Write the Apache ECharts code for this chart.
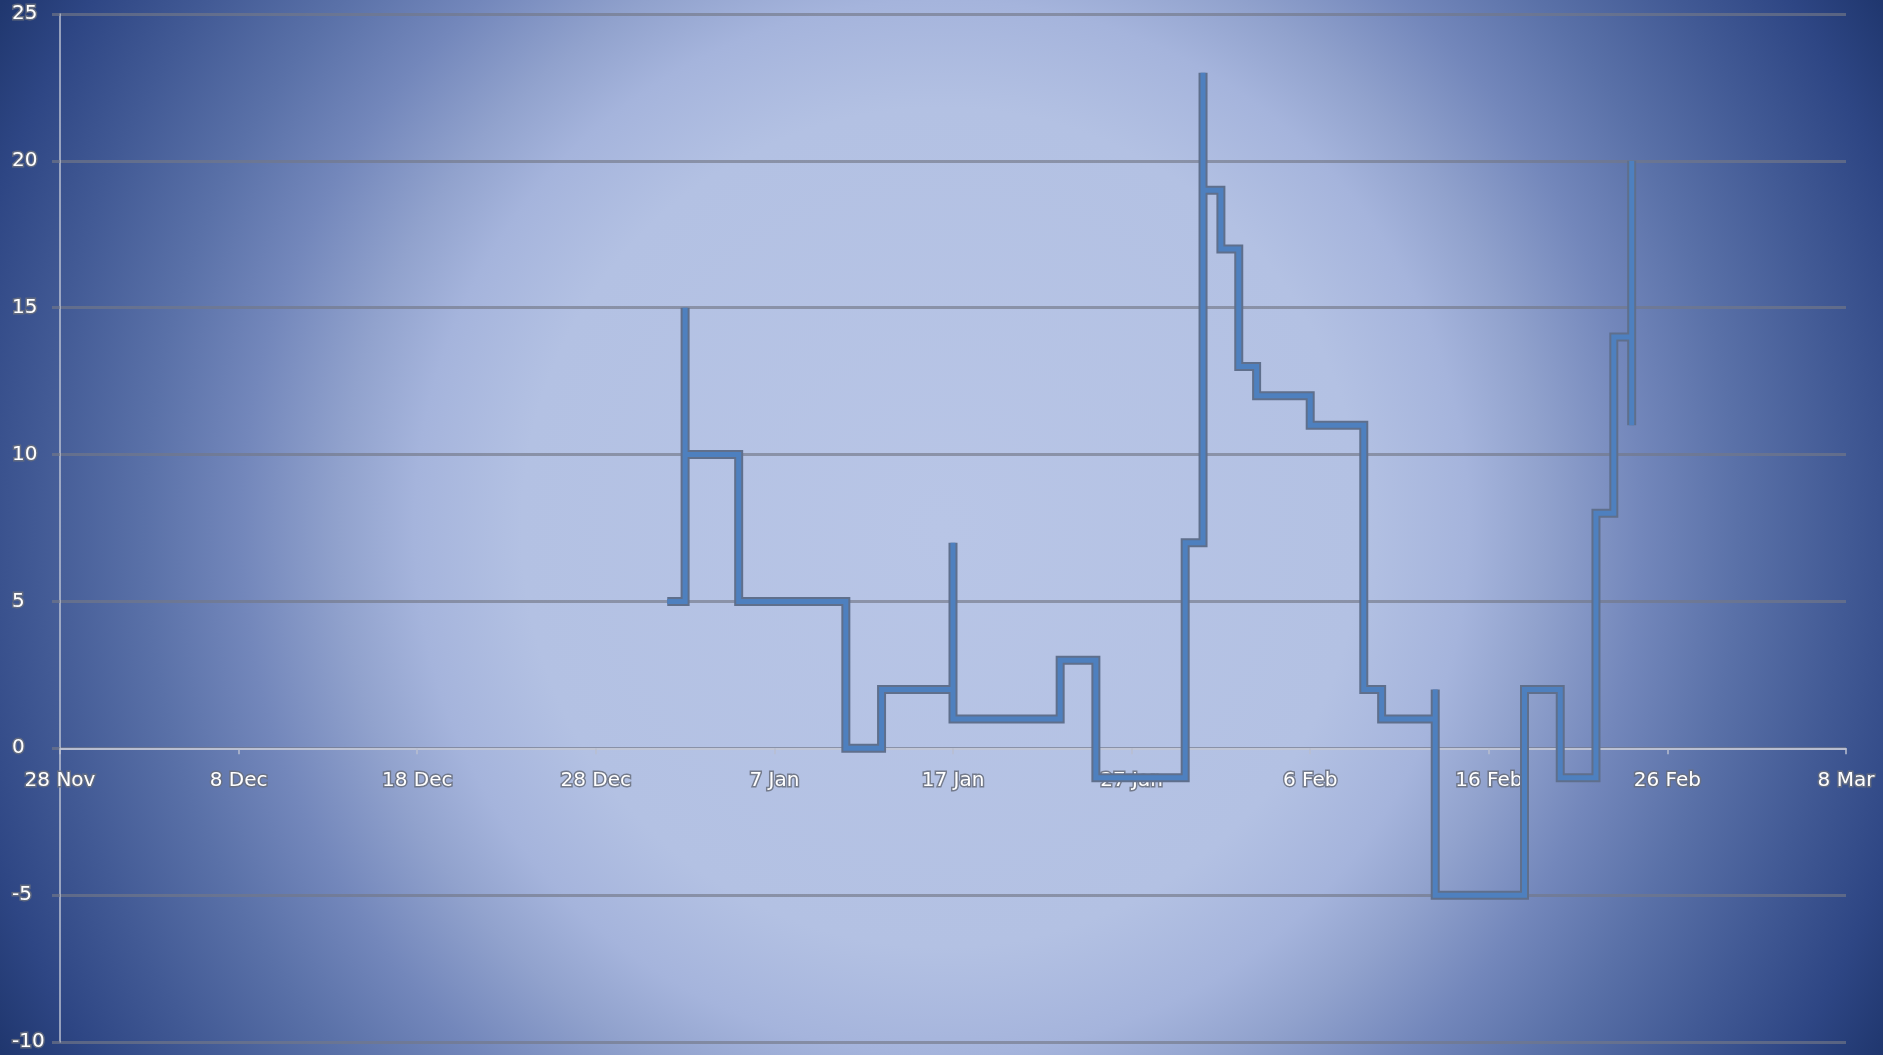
<!DOCTYPE html>
<html>
<head>
<meta charset="utf-8">
<title>Step chart</title>
<script src="https://cdn.jsdelivr.net/npm/echarts@6/dist/echarts.min.js"></script>
<style>
  html, body { margin: 0; padding: 0; overflow: hidden; }
  #chart { width: 1883px; height: 1055px; }
</style>
</head>
<body>
<div id="chart"></div>
<script>
// Axis origin and tick labels (one label every 10 days)
const axisStart = '2020-11-28';
const tickLabels = ['28 Nov', '8 Dec', '18 Dec', '28 Dec', '7 Jan', '17 Jan',
                    '27 Jan', '6 Feb', '16 Feb', '26 Feb', '8 Mar'];
const yTicks = [-10, -5, 0, 5, 10, 15, 20, 25];

// Observations: a date may appear more than once (several readings that day)
const obsDates = [
  '2021-01-01', '2021-01-02', '2021-01-02', '2021-01-05', '2021-01-11',
  '2021-01-13', '2021-01-17', '2021-01-17', '2021-01-23', '2021-01-25',
  '2021-01-30', '2021-01-31', '2021-01-31', '2021-02-01', '2021-02-02',
  '2021-02-03', '2021-02-06', '2021-02-09', '2021-02-10', '2021-02-13',
  '2021-02-13', '2021-02-18', '2021-02-20', '2021-02-22', '2021-02-23',
  '2021-02-24', '2021-02-24'
];
const obsValues = [
  5, 15, 10, 5, 0,
  2, 7, 1, 3, -1,
  7, 23, 19, 17, 13,
  12, 11, 2, 1, 2,
  -5, 2, -1, 8, 14,
  20, 11
];

const DAY = 86400000;
function dayOffset(d) {
  return Math.round((Date.parse(d + 'T00:00:00Z') - Date.parse(axisStart + 'T00:00:00Z')) / DAY);
}
const points = obsDates.map((d, i) => [dayOffset(d), obsValues[i]]);

// Plot area
const W = 1883, H = 1055;
const gridBox = { left: 60, right: 37, top: 14, bottom: 13 };
const yMin = yTicks[0], yMax = yTicks[yTicks.length - 1];
// the date axis sits on the zero line: shift it up from the grid bottom
const plotH = H - gridBox.top - gridBox.bottom;
const zeroShift = -plotH * (0 - yMin) / (yMax - yMin);

const labelStyle = {
  color: '#ffffff',
  fontFamily: 'DejaVu Sans',
  fontSize: 20,
  textBorderColor: 'rgba(105,110,125,0.85)',
  textBorderWidth: 3
};

const chart = echarts.init(document.getElementById('chart'), null, { renderer: 'canvas' });

chart.setOption({
  animation: false,
  backgroundColor: {
    type: 'radial', x: 0.5, y: 0.5, r: 1.02,
    colorStops: [
      { offset: 0.00, color: '#b8c5e6' },
      { offset: 0.39, color: '#b3c1e3' },
      { offset: 0.49, color: '#a5b4dc' },
      { offset: 0.56, color: '#91a2cd' },
      { offset: 0.65, color: '#7387bb' },
      { offset: 0.74, color: '#5a71a8' },
      { offset: 0.84, color: '#425a95' },
      { offset: 0.93, color: '#2e4684' },
      { offset: 1.00, color: '#20376f' }
    ]
  },
  grid: Object.assign({ containLabel: false, outerBoundsMode: 'none' }, gridBox),
  xAxis: {
    type: 'value',
    position: 'bottom',
    offset: zeroShift,
    min: 0,
    max: (tickLabels.length - 1) * 10,
    interval: 10,
    axisLine: { onZero: false, lineStyle: { color: '#d3d8e6', width: 1.5 } },
    axisTick: { show: true, length: 6, lineStyle: { color: '#b9bfcf', width: 1.5 } },
    axisLabel: Object.assign({
      margin: 23,
      formatter: v => tickLabels[Math.round(v / 10)] || ''
    }, labelStyle),
    splitLine: { show: false }
  },
  yAxis: {
    type: 'value',
    min: yMin,
    max: yMax,
    interval: 5,
    axisLine: { show: true, onZero: false, lineStyle: { color: 'rgba(200,204,216,0.9)', width: 1.5 } },
    axisTick: { show: true, length: 8, lineStyle: { color: 'rgba(115,120,135,0.65)', width: 3 } },
    axisLabel: Object.assign({ align: 'left', margin: 48 }, labelStyle),
    splitLine: { show: true, lineStyle: { color: 'rgba(115,120,135,0.65)', width: 3 } }
  },
  series: [
    {
      // darker outline under the line
      type: 'line',
      step: 'end',
      data: points,
      showSymbol: false,
      silent: true,
      lineStyle: { color: '#5f6f8c', width: 9, join: 'miter', cap: 'butt' },
      z: 3
    },
    {
      type: 'line',
      step: 'end',
      data: points,
      showSymbol: false,
      silent: true,
      lineStyle: { color: '#4e80bf', width: 5, join: 'miter', cap: 'butt' },
      z: 4
    }
  ]
});
</script>
</body>
</html>
